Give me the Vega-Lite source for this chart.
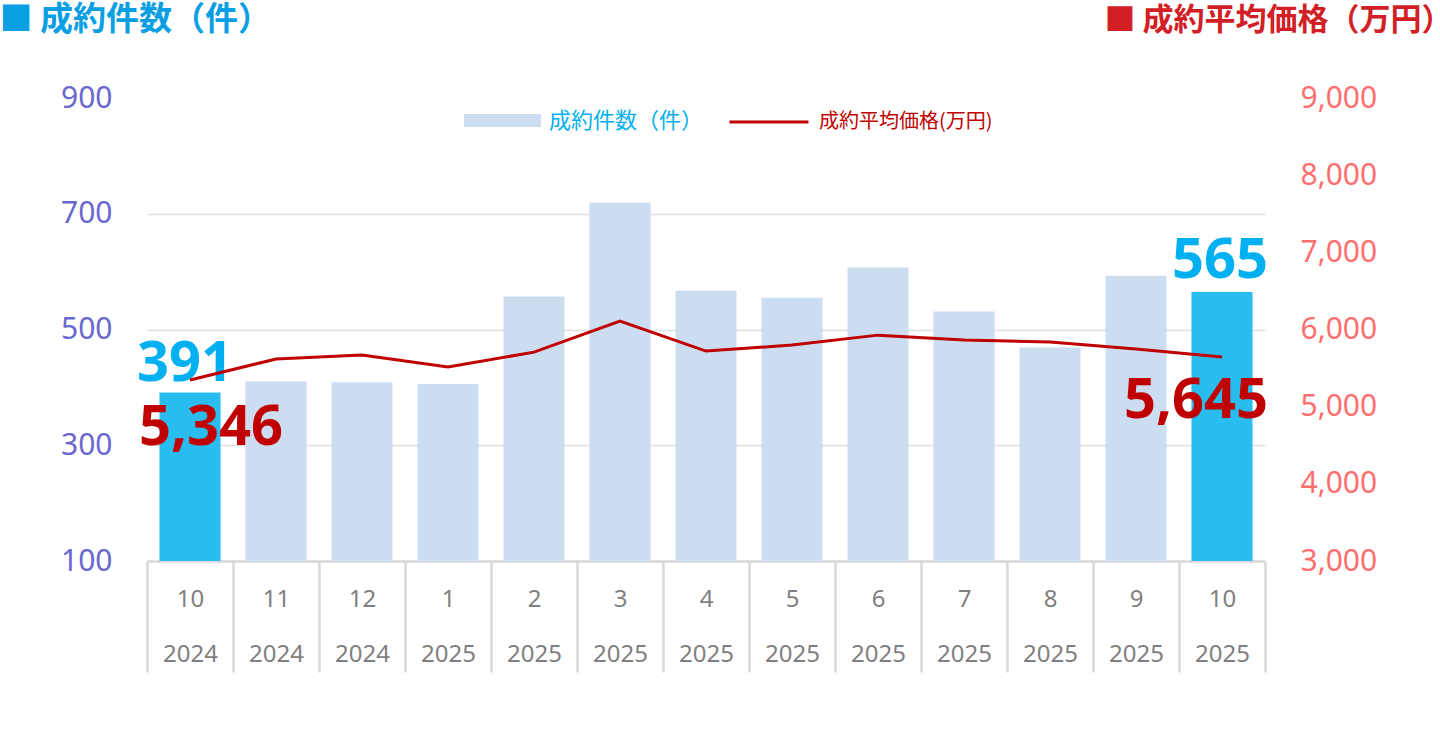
{
  "$schema": "https://vega.github.io/schema/vega-lite/v6.json",
  "autosize": "none",
  "width": 1118,
  "height": 463,
  "padding": {"left": 147, "top": 98, "right": 175, "bottom": 177},
  "background": "white",
  "config": {
    "view": {"stroke": null},
    "font": "Noto Sans, Noto Sans CJK JP",
    "legend": {"padding": 0, "labelLimit": 400}
  },
  "data": {
    "values": [
      {"key": "2024-10", "count": 391, "price": 5346},
      {"key": "2024-11", "count": 410, "price": 5617},
      {"key": "2024-12", "count": 409, "price": 5668},
      {"key": "2025-01", "count": 406, "price": 5513},
      {"key": "2025-02", "count": 557, "price": 5707},
      {"key": "2025-03", "count": 719, "price": 6109},
      {"key": "2025-04", "count": 567, "price": 5720},
      {"key": "2025-05", "count": 555, "price": 5798},
      {"key": "2025-06", "count": 607, "price": 5927},
      {"key": "2025-07", "count": 531, "price": 5863},
      {"key": "2025-08", "count": 469, "price": 5837},
      {"key": "2025-09", "count": 593, "price": 5746},
      {"key": "2025-10", "count": 565, "price": 5645}
    ]
  },
  "encoding": {
    "x": {
      "field": "key",
      "type": "nominal",
      "sort": null,
      "scale": {"paddingInner": 0, "paddingOuter": 0},
      "axis": {
        "title": null,
        "labelAngle": 0,
        "labelExpr": "isValid(datum.value) ? [toNumber(split(datum.value,'-')[1]) + '', split(datum.value,'-')[0]] : ''",
        "labelFontSize": 24,
        "labelColor": "#7f7f7f",
        "labelLineHeight": 55,
        "labelBaseline": "top",
        "labelPadding": -85,
        "domainColor": "#d9d9d9",
        "domainWidth": 2.5,
        "ticks": true,
        "tickBand": "extent",
        "tickSize": 111,
        "tickColor": "#d9d9d9",
        "tickWidth": 2.5,
        "grid": false
      }
    }
  },
  "layer": [
    {
      "encoding": {
        "y": {
          "field": "count",
          "type": "quantitative",
          "scale": {"domain": [100, 900], "nice": false, "zero": false},
          "axis": {
            "title": "■ 成約件数（件）",
            "titleAngle": 0,
            "titleX": -148,
            "titleY": -79,
            "titleAlign": "left",
            "titleBaseline": "middle",
            "titleFontSize": 33,
            "titleFontWeight": "bold",
            "titleColor": "#0A9FE3",
            "titleFont": "Noto Sans CJK JP",
            "values": [100, 300, 500, 700, 900],
            "domain": false,
            "ticks": false,
            "labelPadding": 35,
            "labelFontSize": 30,
            "labelColor": "#6A67CE",
            "grid": true,
            "gridColor": "#e0e0e0",
            "gridWidth": 1.5,
            "gridOpacity": {"condition": {"test": "datum.value >= 900", "value": 0}, "value": 1}
          }
        }
      },
      "layer": [
        {
          "mark": {"type": "bar", "width": {"band": 0.71}},
          "encoding": {
            "y2": {"datum": 100},
            "fill": {
              "condition": {"test": "datum.key == '2024-10' || datum.key == '2025-10'", "value": "#29BDEF"},
              "datum": "成約件数（件）",
              "type": "nominal",
              "scale": {"range": ["#CCDDF2"]},
              "legend": {
                "orient": "none",
                "legendX": 317,
                "legendY": -16,
                "title": null,
                "symbolType": "M-1,-0.169H1V0.169H-1Z",
                "symbolSize": 5929,
                "symbolStrokeWidth": 0,
                "labelFontSize": 22,
                "labelColor": "#00B0F0",
                "labelFont": "Noto Sans CJK JP",
                "labelOffset": 8
              }
            }
          }
        },
        {
          "transform": [{"filter": "datum.key == '2024-10'"}],
          "mark": {"type": "text", "fontSize": 56, "fontWeight": "bold", "color": "#00B0F0", "baseline": "alphabetic", "dy": -12, "dx": -5},
          "encoding": {"text": {"field": "count", "type": "quantitative"}}
        },
        {
          "transform": [{"filter": "datum.key == '2025-10'"}],
          "mark": {"type": "text", "fontSize": 56, "fontWeight": "bold", "color": "#00B0F0", "baseline": "alphabetic", "dy": -14, "dx": -2},
          "encoding": {"text": {"field": "count", "type": "quantitative"}}
        }
      ]
    },
    {
      "encoding": {
        "y": {
          "field": "price",
          "type": "quantitative",
          "scale": {"domain": [3000, 9000], "nice": false, "zero": false},
          "axis": {
            "orient": "right",
            "title": "■ 成約平均価格（万円）",
            "titleAngle": 0,
            "titleX": 187,
            "titleY": -78,
            "titleAlign": "right",
            "titleBaseline": "middle",
            "titleFontSize": 31,
            "titleFontWeight": "bold",
            "titleColor": "#D21E25",
            "titleFont": "Noto Sans CJK JP",
            "values": [3000, 4000, 5000, 6000, 7000, 8000, 9000],
            "format": ",d",
            "domain": false,
            "ticks": false,
            "grid": false,
            "labelPadding": 35,
            "labelFontSize": 30,
            "labelColor": "#FF6F6F"
          }
        }
      },
      "layer": [
        {
          "mark": {"type": "line", "strokeWidth": 3},
          "encoding": {
            "stroke": {
              "datum": "成約平均価格(万円)",
              "type": "nominal",
              "scale": {"range": ["#C00000"]},
              "legend": {
                "orient": "none",
                "legendX": 581,
                "legendY": -17,
                "title": null,
                "symbolType": "stroke",
                "symbolSize": 6241,
                "symbolStrokeWidth": 3,
                "labelFontSize": 20,
                "labelColor": "#C00000",
                "labelFont": "Noto Sans CJK JP",
                "labelOffset": 9
              }
            }
          }
        },
        {
          "transform": [{"filter": "datum.key == '2024-10'"}],
          "mark": {"type": "text", "fontSize": 56, "fontWeight": "bold", "color": "#C00000", "baseline": "alphabetic", "dy": 65, "dx": 21},
          "encoding": {"text": {"field": "price", "type": "quantitative", "format": ","}}
        },
        {
          "transform": [{"filter": "datum.key == '2025-10'"}],
          "mark": {"type": "text", "fontSize": 56, "fontWeight": "bold", "color": "#C00000", "baseline": "alphabetic", "dy": 61, "dx": -26},
          "encoding": {"text": {"field": "price", "type": "quantitative", "format": ","}}
        }
      ]
    }
  ],
  "resolve": {"scale": {"y": "independent"}}
}
